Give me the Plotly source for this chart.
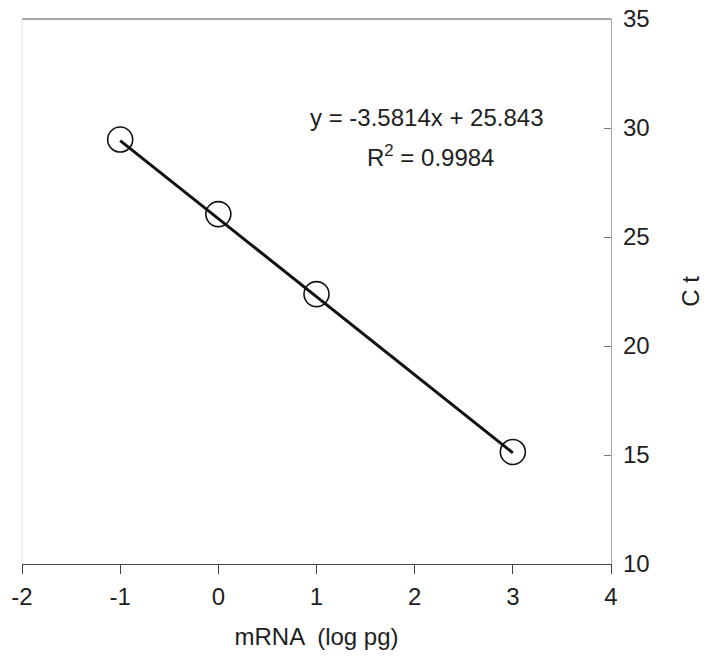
import plotly.graph_objects as go

# Data
mrna_log_pg = [-1, 0, 1, 3]
ct_values = [29.47, 26.05, 22.38, 15.14]
slope = -3.5814
intercept = 25.843
r_squared = 0.9984
fit_x = [-1, 3]
fit_y = [slope * x + intercept for x in fit_x]

x_ticks = [-2, -1, 0, 1, 2, 3, 4]
y_ticks = [10, 15, 20, 25, 30, 35]

FONT = "Liberation Sans, Arial, Helvetica, sans-serif"
TXT = "#1e1e1e"

fig = go.Figure()
fig.add_trace(go.Scatter(
    x=fit_x, y=fit_y, mode="lines",
    line=dict(color="#111111", width=3),
    showlegend=False, hoverinfo="skip",
))
fig.add_trace(go.Scatter(
    x=mrna_log_pg, y=ct_values, mode="markers",
    marker=dict(symbol="circle-open", size=25, color="#111111",
                line=dict(width=1.6, color="#111111")),
    showlegend=False,
))

fig.add_annotation(
    x=0.688, y=0.819, xref="paper", yref="paper",
    text=f"y = {slope}x + {intercept}", showarrow=False,
    font=dict(family=FONT, size=24, color=TXT), xanchor="center", yanchor="middle",
)
fig.add_annotation(
    x=0.693, y=0.748, xref="paper", yref="paper",
    text=f"R<sup>2</sup> = {r_squared}", showarrow=False,
    font=dict(family=FONT, size=24, color=TXT), xanchor="center", yanchor="middle",
)

# top and left frame lines
fig.add_shape(type="line", xref="paper", yref="paper", x0=0, x1=1, y0=1, y1=1,
              line=dict(color="#8a8a8a", width=1.5))
fig.add_shape(type="line", xref="paper", yref="paper", x0=0, x1=0, y0=0, y1=1,
              line=dict(color="#e4e4e4", width=1))

fig.update_layout(
    width=710, height=661,
    margin=dict(l=22, r=99, t=19, b=97),
    paper_bgcolor="white", plot_bgcolor="white",
    font=dict(family=FONT, size=24, color=TXT),
    xaxis=dict(
        range=[-2, 4], tickvals=x_ticks, ticktext=[str(v) for v in x_ticks],
        showgrid=False, zeroline=False, automargin=False,
        showline=True, linecolor="#444444", linewidth=1.3,
        ticks="outside", ticklen=9, tickcolor="#444444", tickwidth=1,
        tickfont=dict(size=24), ticklabeloverflow="allow", ticklabelstandoff=2,
        title=dict(text="mRNA  (log pg)", font=dict(size=24), standoff=19),
    ),
    yaxis=dict(
        range=[10, 35], tickvals=y_ticks, ticktext=[str(v) for v in y_ticks],
        side="right",
        showgrid=False, zeroline=False, automargin=False,
        showline=True, linecolor="#ababab", linewidth=1.3,
        ticks="inside", ticklen=7, tickcolor="#777777", tickwidth=1,
        tickfont=dict(size=24), ticklabeloverflow="allow", ticklabelstandoff=6,
        title=dict(text="C t", font=dict(size=24), standoff=33),
    ),
)

fig.write_html("out.html", config={"displayModeBar": False},
               post_script="document.body.style.margin='0';")
